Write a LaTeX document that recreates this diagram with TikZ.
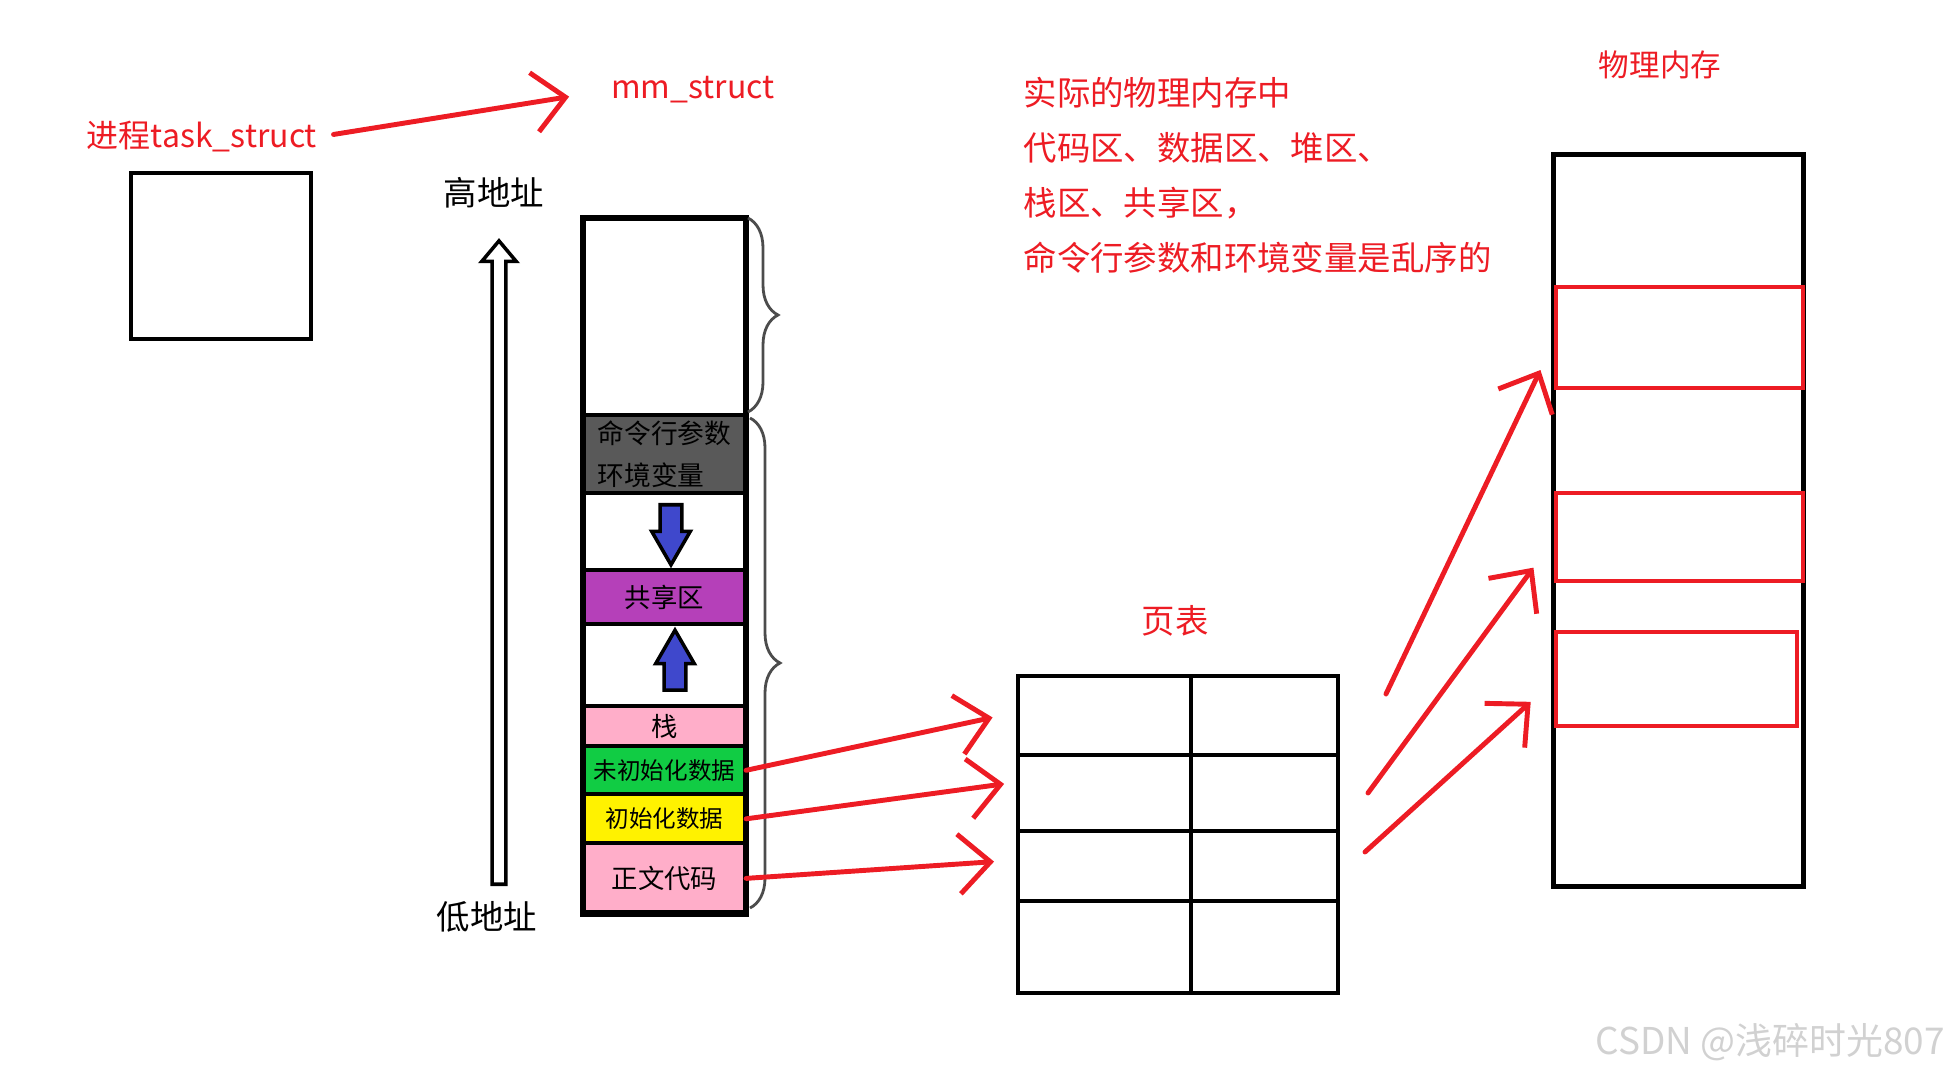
\documentclass[tikz,border=0pt]{standalone}
\usepackage{fontspec}
\newfontfamily\cjk{Noto Sans CJK SC}
\usetikzlibrary{arrows.meta,positioning,shapes.arrows,decorations.pathreplacing}
\definecolor{penred}{HTML}{ED1C24}
\definecolor{argsgray}{HTML}{595959}
\definecolor{shmpurple}{HTML}{B540B9}
\definecolor{rosepink}{HTML}{FFAEC9}
\definecolor{bssgreen}{HTML}{11CC44}
\definecolor{datayellow}{HTML}{FFF200}
\definecolor{indigo}{HTML}{3F48CC}

\begin{document}
\begin{tikzpicture}[
	x=0.01cm, y=-0.01cm,
	red label/.style={text=penred, inner sep=0pt, font=\cjk\fontsize{9.5}{15.6}\selectfont},
	black label/.style={inner sep=0pt, font=\cjk\fontsize{9.5}{12}\selectfont},
	box/.style={draw, line width=1.3pt, inner sep=0pt, outer sep=0pt},
	seg/.style={draw, line width=1.2pt, minimum width=16.3mm, inner sep=0pt, outer sep=0pt, font=\cjk\fontsize{7.5}{12}\selectfont},
	small seg/.style={seg, font=\cjk\fontsize{6.7}{12}\selectfont},
	red box/.style={draw=penred, line width=1.2pt, inner sep=0pt, outer sep=0pt},
	red arrow/.style={draw=penred, line width=1.4pt, line cap=round, -{Straight Barb[length=9pt,width=17pt]}},
	block arrow/.style={single arrow, draw, line width=1pt, fill=indigo, inner xsep=0pt, inner ysep=0.9mm, minimum height=6mm, single arrow head extend=0.85mm, single arrow tip angle=60, anchor=tail},
	seg brace/.style={draw=black!70, line width=0.8pt, decorate, decoration={brace, amplitude=3mm}}
	]
	\useasboundingbox (0,0) rectangle (1956,1076);
	
	% task_struct and mm_struct
	\node[red label, font=\cjk\fontsize{9.1}{12}\selectfont] (tasklabel) at (202,137) {进程task\_struct};
	\node[red label, font=\cjk\fontsize{9.1}{12}\selectfont] (mmlabel) at (693,90) {mm\_struct};
	\node[box, minimum width=18mm, minimum height=16.6mm] (taskbox) at (221,256) {};
	\draw[red arrow, shorten <=0.16cm, shorten >=0.42cm] (tasklabel.east) -- (mmlabel.west);
	
	% address direction
	\node[black label] (high) at (494,193) {高地址};
	\node[black label] (low) at (487,917) {低地址};
	\node[single arrow, draw, fill=white, line width=1pt, rotate=90, anchor=tail, inner xsep=0pt, inner ysep=0.5mm, minimum height=64.3mm, single arrow head extend=1.05mm, single arrow tip angle=80] (addrarrow) at (499,886) {};
	
	% virtual address space
	\node[seg, minimum height=19.7mm, anchor=north west] (seg-top) at (583,218) {};
	\node[seg, fill=argsgray, minimum height=7.8mm, align=left, below=0pt of seg-top, font=\cjk\fontsize{7.6}{12}\selectfont] (seg-args) {命令行参数\\环境变量};
	\node[seg, minimum height=7.7mm, below=0pt of seg-args] (seg-gap1) {};
	\node[seg, fill=shmpurple, minimum height=5.4mm, below=0pt of seg-gap1] (seg-shm) {共享区};
	\node[seg, minimum height=8.2mm, below=0pt of seg-shm] (seg-gap2) {};
	\node[seg, fill=rosepink, minimum height=4mm, below=0pt of seg-gap2] (seg-stack) {栈};
	\node[small seg, fill=bssgreen, minimum height=4.8mm, below=0pt of seg-stack] (seg-bss) {未初始化数据};
	\node[small seg, fill=datayellow, minimum height=4.9mm, below=0pt of seg-bss] (seg-data) {初始化数据};
	\node[seg, fill=rosepink, minimum height=7mm, below=0pt of seg-data] (seg-text) {正文代码};
	\draw[line width=1.8pt] (seg-top.north west) rectangle (seg-text.south east);
	\node[block arrow, rotate=-90] (down) at (671,503) {};
	\node[block arrow, rotate=90] (up) at (675,692) {};
	\draw[seg brace] (748,218) -- (748,412);
	\draw[seg brace] (750,418) -- (750,908);
	
	% page table
	\node[red label] (pagetitle) at (1175,621) {页表};
	\node[box, minimum width=32mm, minimum height=31.7mm] (pagetab) at (1178,834.5) {};
	\draw[line width=1.3pt] (1191,676) -- (1191,993);
	\foreach \y in {755,831,901}
		\draw[line width=1.3pt] (1018,\y) -- (1338,\y);
	\coordinate (row1) at (1018,712);
	\coordinate (row2) at (1018,782);
	\coordinate (row3) at (1018,860);
	\draw[red arrow, shorten >=0.26cm] (seg-bss.east) -- (row1);
	\draw[red arrow, shorten >=0.14cm] (seg-data.east) -- (row2);
	\draw[red arrow, shorten >=0.24cm] (seg-text.east) -- (row3);
	
	% note
	\node[red label, align=left, anchor=north west] (note) at (1023,77) {实际的物理内存中\\代码区、数据区、堆区、\\栈区、共享区，\\命令行参数和环境变量是乱序的};
	
	% physical memory
	\node[red label, font=\cjk\fontsize{8.7}{12}\selectfont] (phystitle) at (1660,65) {物理内存};
	\node[box, line width=1.4pt, minimum width=24.9mm, minimum height=73.1mm] (phys) at (1678.5,520.5) {};
	\node[red box, minimum width=24.7mm, minimum height=10.1mm] (phys1) at (1679.5,337.5) {};
	\node[red box, minimum width=24.7mm, minimum height=8.8mm] (phys2) at (1679.5,537) {};
	\node[red box, minimum width=24.1mm, minimum height=9.4mm] (phys3) at (1676.5,679) {};
	\coordinate (out1) at (1386,694);
	\coordinate (out2) at (1368,793);
	\coordinate (out3) at (1365,852);
	\draw[red arrow, shorten >=0.36cm] (out1) -- (phys1.west);
	\draw[red arrow, shorten >=0.38cm] (out2) -- (phys2.west);
	\draw[red arrow, shorten >=0.34cm] (out3) -- (phys3.west);
	
	\node[text=black!18, font=\cjk\fontsize{10.5}{12}\selectfont] (mark) at (1770,1042) {CSDN @浅碎时光807};
\end{tikzpicture}
\end{document}
